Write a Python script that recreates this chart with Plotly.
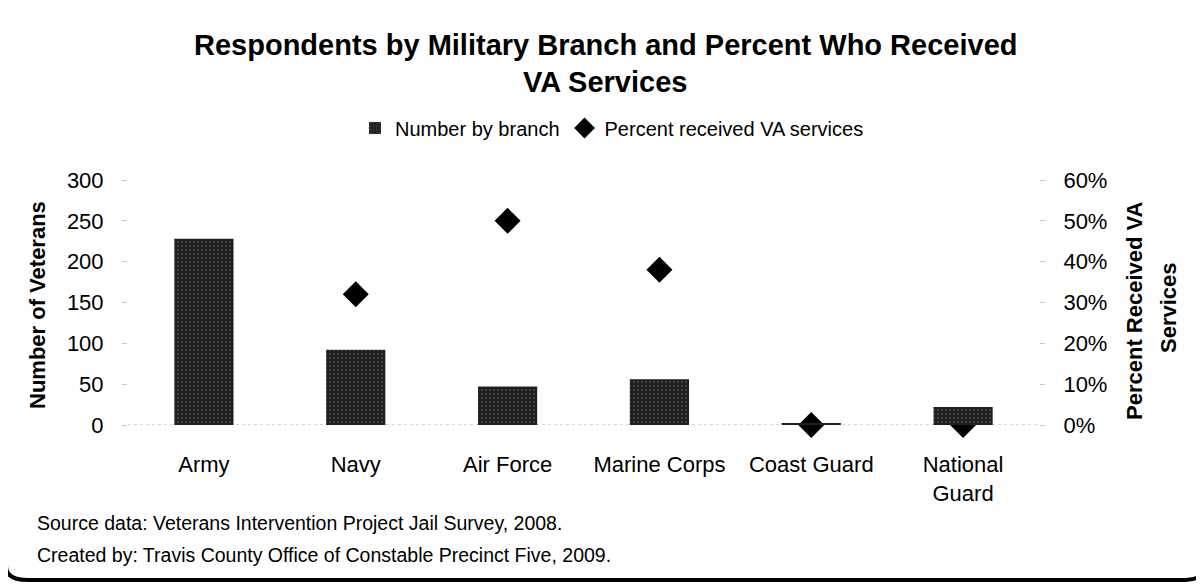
import plotly.graph_objects as go

categories = ["Army", "Navy", "Air Force", "Marine Corps", "Coast Guard", "National<br>Guard"]
number_by_branch = [228, 92, 47, 56, 2, 22]
percent_received = [0.36, 0.32, 0.50, 0.38, 0.0, 0.0]
left_ticks = [0, 50, 100, 150, 200, 250, 300]
right_ticks = [0, 0.1, 0.2, 0.3, 0.4, 0.5, 0.6]

FONT = "Liberation Sans, Arial, sans-serif"

# page body has an 8px margin; work in screen coordinates and convert
OFF = 8
W, H = 1196, 577
L, R, T, B = 120, 165, 172, 160
pw, ph = W - L - R, H - T - B

def px(p):
    return (p - OFF - L) / pw

def py(q):
    return (H - B - (q - OFF)) / ph

fig = go.Figure()
fig.add_trace(go.Bar(
    x=categories, y=number_by_branch, name="Number by branch",
    marker=dict(color="#1e1e1e", line=dict(width=0),
                pattern=dict(shape=".", bgcolor="#1e1e1e", fgcolor="#6a6a6a", size=4, solidity=0.25)),
    width=0.39, yaxis="y2",
))
fig.add_trace(go.Scatter(
    x=categories, y=percent_received, name="Percent received VA services",
    mode="markers", marker=dict(symbol="diamond", size=20, color="black"),
    yaxis="y", cliponaxis=False,
))

fig.update_layout(
    width=W, height=H,
    margin=dict(l=L, r=R, t=T, b=B),
    paper_bgcolor="white", plot_bgcolor="white",
    font=dict(family=FONT, color="black", size=22),
    showlegend=True,
    legend=dict(orientation="h", x=px(612), xanchor="center", y=py(128), yanchor="middle",
                font=dict(size=20), traceorder="normal", itemwidth=30),
    xaxis=dict(showgrid=False, showline=False, ticks="", tickfont=dict(size=22),
               zeroline=False, ticklabelstandoff=24),
    # percent axis (right) is the base axis so the bars overlay the diamonds
    yaxis=dict(range=[0, 0.6], tickvals=right_ticks, tickformat=".0%",
               side="right", showgrid=False, zeroline=False, ticks="outside", ticklen=5,
               tickcolor="#c8c8c8", tickfont=dict(size=22), ticklabelstandoff=14),
    yaxis2=dict(range=[0, 300], tickvals=left_ticks, overlaying="y", side="left",
                showgrid=False, zeroline=False, ticks="outside", ticklen=5,
                tickcolor="#c8c8c8", showline=False, tickfont=dict(size=22),
                ticklabelstandoff=14),
)

def note(text, x, y, size, anchor="center", angle=0):
    fig.add_annotation(text=text, xref="paper", yref="paper", x=px(x), y=py(y),
                       showarrow=False, xanchor=anchor, yanchor="middle",
                       textangle=angle, font=dict(size=size))

note("<b>Respondents by Military Branch and Percent Who Received</b>", 605, 45, 29)
note("<b>VA Services</b>", 605, 82, 29)
note("<b>Number of Veterans</b>", 37, 305, 22, angle=-90)
note("<b>Percent Received VA</b>", 1134, 311, 22, angle=-90)
note("<b>Services</b>", 1168, 308, 22, angle=-90)
note("Source data: Veterans Intervention Project Jail Survey, 2008.", 35, 523, 19.5, anchor="left")
note("Created by: Travis County Office of Constable Precinct Five, 2009.", 35, 555, 19.5, anchor="left")

# baseline dotted
fig.add_shape(type="line", xref="paper", yref="y", x0=0, x1=1, y0=0, y1=0,
              line=dict(color="#b0b0b0", width=1, dash="dot"), layer="below")

# bottom frame with rounded corners
x0p, x1p = px(6), px(1203)
yb = py(580)
ytop = py(566)
cx = 22 / pw
cy = 10 / ph
path = (f"M {x0p},{ytop} Q {x0p},{yb} {x0p+cx},{yb} L {x1p-cx},{yb} "
        f"Q {x1p},{yb} {x1p},{yb+cy}")
fig.add_shape(type="path", xref="paper", yref="paper", path=path,
              line=dict(color="black", width=4))

fig.write_html("out.html")
